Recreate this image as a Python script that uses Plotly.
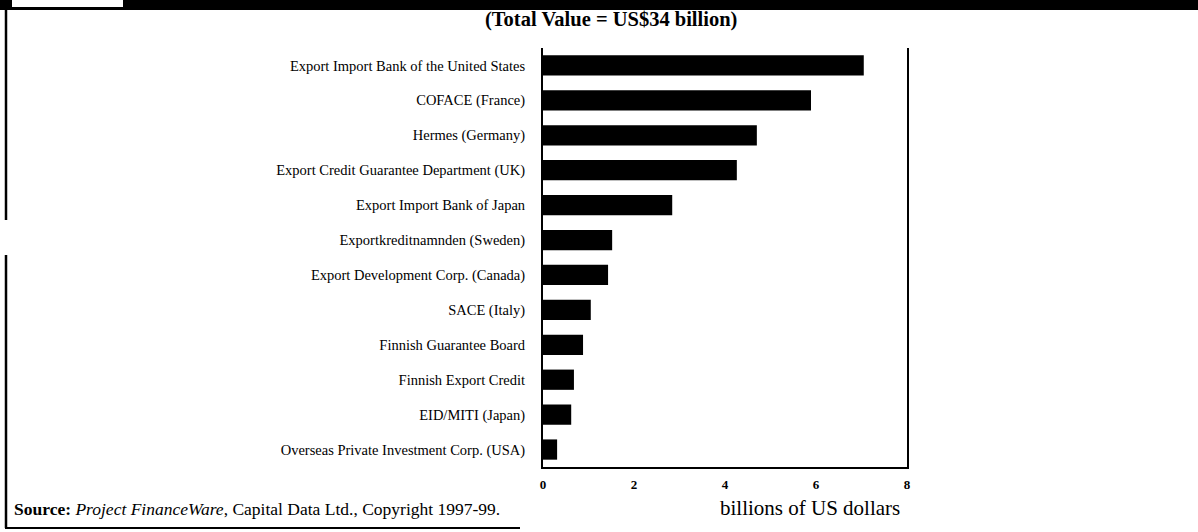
import plotly.graph_objects as go

agencies = [
    "Export Import Bank of the United States",
    "COFACE (France)",
    "Hermes (Germany)",
    "Export Credit Guarantee Department (UK)",
    "Export Import Bank of Japan",
    "Exportkreditnamnden (Sweden)",
    "Export Development Corp. (Canada)",
    "SACE (Italy)",
    "Finnish Guarantee Board",
    "Finnish Export Credit",
    "EID/MITI (Japan)",
    "Overseas Private Investment Corp. (USA)",
]
values = [7.05, 5.89, 4.70, 4.26, 2.84, 1.52, 1.43, 1.05, 0.88, 0.68, 0.62, 0.31]
tick_vals = [0, 2, 4, 6, 8]
tick_text = ["0", "2", "4", "6", "8"]

W, H = 1198, 532
L, R, T, B = 543, 907, 48, 467


def px(x):
    return (x - L) / (R - L)


def py(y):
    return (B - y) / (B - T)


SERIF = "Liberation Serif, Times New Roman, serif"

fig = go.Figure(
    go.Bar(
        x=values,
        y=agencies,
        orientation="h",
        marker=dict(color="black", line=dict(width=0)),
        hoverinfo="x+y",
    )
)

fig.update_layout(
    width=W,
    height=H,
    margin=dict(l=L, r=W - R, t=T, b=H - B),
    paper_bgcolor="white",
    plot_bgcolor="white",
    bargap=0.42,
    showlegend=False,
    font=dict(family=SERIF, color="black"),
    xaxis=dict(
        range=[0, 8],
        tickvals=tick_vals,
        ticktext=tick_text,
        showgrid=False,
        zeroline=False,
        showline=True,
        linecolor="black",
        linewidth=2,
        ticks="",
        ticklabelstandoff=4,
        tickfont=dict(family=SERIF, size=13, color="black", weight="bold"),
    ),
    yaxis=dict(
        autorange="reversed",
        showgrid=False,
        zeroline=False,
        showline=True,
        mirror=True,
        linecolor="black",
        linewidth=2,
        ticks="",
        ticklabelstandoff=13,
        tickfont=dict(family=SERIF, size=14.5, color="black"),
    ),
)

annotations = [
    dict(
        text="<b>(Total Value = US$34 billion)</b>",
        x=px(611), y=py(20), xref="paper", yref="paper",
        xanchor="center", yanchor="middle", showarrow=False,
        font=dict(family=SERIF, size=20.5, color="black"),
    ),
    dict(
        text="<b>Source:</b> <i>Project FinanceWare</i>, Capital Data Ltd., Copyright 1997-99.",
        x=px(12), y=py(509), xref="paper", yref="paper",
        xanchor="left", yanchor="middle", showarrow=False,
        font=dict(family=SERIF, size=17.5, color="black"),
    ),
    dict(
        text="billions of US dollars",
        x=px(810), y=py(508), xref="paper", yref="paper",
        xanchor="center", yanchor="middle", showarrow=False,
        font=dict(family=SERIF, size=21, color="black"),
    ),
]
fig.update_layout(annotations=annotations)

shapes = [
    # top black band
    dict(type="rect", xref="paper", yref="paper",
         x0=px(0), x1=px(W), y0=py(0), y1=py(10),
         fillcolor="black", line=dict(width=0), layer="above"),
    # white tab in band
    dict(type="rect", xref="paper", yref="paper",
         x0=px(12), x1=px(123), y0=py(0), y1=py(7),
         fillcolor="white", line=dict(width=0), layer="above"),
    # left frame line (upper)
    dict(type="line", xref="paper", yref="paper",
         x0=px(6), x1=px(6), y0=py(10), y1=py(220),
         line=dict(color="black", width=2.5)),
    # left frame line (lower)
    dict(type="line", xref="paper", yref="paper",
         x0=px(6), x1=px(6), y0=py(255), y1=py(528),
         line=dict(color="black", width=2.5)),
    # bottom frame line
    dict(type="line", xref="paper", yref="paper",
         x0=px(5), x1=px(520), y0=py(528), y1=py(528),
         line=dict(color="black", width=2)),
]
fig.update_layout(shapes=shapes)

fig.write_html("out.html")
